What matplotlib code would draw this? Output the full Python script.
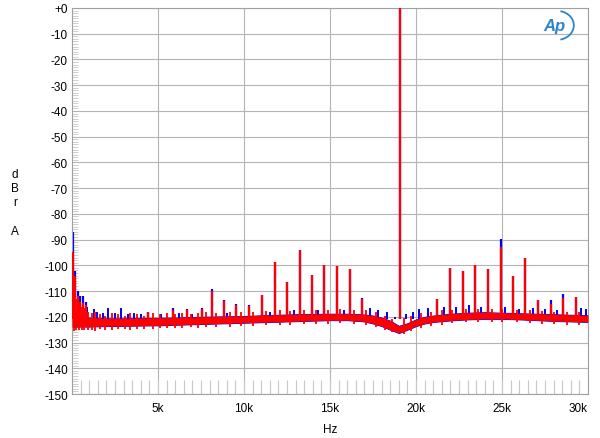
import matplotlib
matplotlib.use("Agg")
import matplotlib.pyplot as plt
from matplotlib.patches import Arc

plt.rcParams['font.family'] = ['Liberation Sans', 'DejaVu Sans']

# noise floor band (Hz, dBr)
floor_hz = [0, 200, 500, 1000, 2000, 3000, 4000, 5000, 6000, 7000, 8000, 9000,
            10000, 11000, 12000, 13000, 14000, 15000, 16000, 17000, 17500, 18000,
            18500, 19000, 19500, 20000, 20500, 21000, 22000, 23000, 24000, 25000,
            26000, 27000, 28000, 29000, 30000]
red_hi = [-116, -118, -119.5, -120.3, -120.6, -120.6, -120.5, -120.4, -120.3, -120.1, -119.9,
          -119.8, -119.7, -119.4, -119.2, -119, -118.9, -118.8, -118.8, -119.1, -119.5,
          -120.3, -121.5, -123.5, -122.5, -121, -120, -119.5, -118.8, -118.4, -118.2,
          -118.4, -118.6, -118.8, -119, -119.2, -119.4]
red_lo = [-124, -123.8, -123.8, -123.8, -123.6, -123.5, -123.4, -123.3, -123.1, -122.9,
          -122.7, -122.5, -122.3, -122.1, -121.9, -121.7, -121.5, -121.3, -121.3, -121.8,
          -122.6, -123.6, -125, -126.3, -125, -123.6, -122.6, -122, -121.4, -121, -120.8,
          -120.8, -121, -121.3, -121.6, -121.8, -122]

# discrete spurious tones: frequency, red peak, blue peak
spur_hz = [40, 190, 325, 480, 637, 811, 4440, 5886, 6663, 7532, 8111, 8824, 9560,
           10290, 11025, 11780, 12474, 13227, 13963, 14676, 15411, 16142, 16860,
           19070, 21240, 21975, 22729, 23442, 24177, 24948, 25643, 26361, 27091,
           27827, 28563, 29276]
spur_red = [-95, -104, -111.8, -114.4, -114.8, -115.5, -118.3, -117.2, -117.5, -117,
            -110, -113.8, -115.3, -115.7, -111.6, -98.6, -106.4, -93.9, -103.8, -99.8,
            -100.3, -101.3, -113.1, 0, -113.1, -100.9, -102.2, -99.8, -101.6, -93,
            -104.2, -97.3, -113.5, -115, -112.5, -112.4]
spur_blue = [-87.2, -102.1, -109.9, -111.8, -111.8, -114.4, -118, -116.7, -117, -116.6,
             -109.2, -113.5, -115, -115.4, -111.4, -98.6, -106.4, -93.9, -103.8, -99.8,
             -100.3, -101.3, -112.8, 0, -113, -100.9, -102.2, -99.8, -101.6, -89.8,
             -104.2, -97.3, -113.3, -113.5, -111.2, -112.4]

# small blue-only noise peaks
blip_hz = [900, 1250, 1450, 1800, 2120, 2500, 2840, 3250, 3600, 4000, 5200, 6200, 7000,
           9000, 11500, 12900, 14300, 15800, 17300, 17800, 18300, 18750, 19400, 19800,
           20200, 20700, 21600, 22300, 23100, 23800, 25200, 26000, 26800, 27500, 28200,
           29600, 29900]
blip_db = [-116, -117, -118, -118.5, -116.6, -118.5, -116.5, -119, -118.5, -119, -119,
           -118.5, -119, -118.5, -118, -117.5, -117.5, -117.5, -116.5, -117.5, -118,
           -120, -119, -118, -117, -116.5, -116, -116, -115.5, -116, -116, -117,
           -116.5, -117, -117.5, -116.5, -117]

# ragged red noise excursions (up and down), read by eye
jit_hz = [100, 260, 400, 560, 700, 950, 1150, 1350, 1600, 1900, 2300, 2700, 3100,
          3400, 3800, 4200, 4700, 5100, 5500, 6000, 6400, 6900, 7300, 7800, 8400,
          9200, 9800, 10500, 11300, 12100, 12700, 13500, 14200, 14900, 15600, 16400,
          17100, 17700, 18200, 18600, 19300, 19700, 20300, 20900, 21500, 22100, 22900,
          23600, 24400, 25000, 25900, 26600, 27300, 28000, 28800, 29500]
jit_top = [-112, -113, -115, -116, -116.5, -118, -118.5, -118, -119, -119.5, -118.5,
           -119, -119.5, -118.5, -119, -119.5, -118.5, -119, -118.5, -119, -118.5,
           -118.8, -118.5, -118.3, -118.5, -118, -118.3, -118, -117.8, -117.5, -117.8,
           -117.5, -117.2, -117.3, -117, -117.2, -117.5, -118.2, -119.5, -121, -120.5,
           -119.5, -118.5, -118, -117.5, -117.2, -116.8, -116.8, -116.8, -117, -117.2,
           -117.4, -117.8, -118, -118.2, -118.2]
jit_bot = [-125.5, -125, -125.2, -125, -125.3, -125, -125.2, -125.4, -124.8, -125,
           -125.1, -124.8, -124.9, -125, -124.6, -124.8, -124.6, -124.5, -124.2, -124.5,
           -124.2, -124, -124.3, -123.8, -124, -123.8, -123.5, -123.6, -123.2, -123.2,
           -123, -122.8, -122.7, -122.6, -122.4, -122.6, -123, -124, -125, -126,
           -126.5, -125.5, -124.5, -123.6, -123, -122.4, -122.2, -122, -122, -122,
           -122.2, -122.4, -122.6, -122.8, -123, -123.2]

yticks = list(range(0, -151, -10))
ytick_labels = ['+0'] + [str(v) for v in yticks[1:]]
xticks = [5000, 10000, 15000, 20000, 25000, 30000]
xtick_labels = ['5k', '10k', '15k', '20k', '25k', '30k']

fig = plt.figure(figsize=(6, 4.39), dpi=100)
ax = fig.add_axes([0.12, 0.1002, 0.86, 0.8793])

# bottom minor tick marks drawn as light lines
minor_x = [m * 500 for m in range(1, 60)]
ax.vlines(minor_x, -150, -144.5, color='#c8c8c8', lw=0.8, zorder=1)

# blue trace
ax.fill_between(floor_hz, red_lo, red_hi, color='#0000ff', lw=0.7, edgecolor='#0000ff', zorder=2)
ax.vlines(blip_hz, [-121] * len(blip_hz), blip_db, color='#0000ff', lw=1.4, zorder=2)
ax.vlines(spur_hz, [-121] * len(spur_hz), spur_blue, color='#0000ff', lw=1.6, zorder=2)

# red trace
ax.fill_between(floor_hz, red_lo, red_hi, color='#ff0000', lw=0, zorder=3)
ax.vlines(jit_hz, jit_bot, jit_top, color='#ff0000', lw=1.3, zorder=3)
ax.vlines(spur_hz, [-121] * len(spur_hz), spur_red, color='#ff0000', lw=1.6, zorder=3)

ax.set_xlim(0, 30000)
ax.set_ylim(-150, 0)
ax.set_yticks(yticks)
ax.set_yticklabels(ytick_labels)
ax.set_xticks(xticks)
ax.set_xticklabels(xtick_labels)
ax.get_xticklabels()[-1].set_horizontalalignment('right')
ax.set_yticks(range(-150, 1, 1), minor=True)
ax.tick_params(axis='both', which='major', length=0, labelsize=8.5)
ax.tick_params(axis='y', which='major', pad=3)
ax.tick_params(axis='x', which='major', pad=6)
ax.tick_params(axis='y', which='minor', direction='in', length=4, color='#c8c8c8', width=0.6)
ax.grid(True, which='major', color='#b4b4b4', lw=0.8)
ax.set_axisbelow(True)
for s in ax.spines.values():
    s.set_color('#a0a0a0')
    s.set_linewidth(0.8)

ax.set_xlabel('Hz', fontsize=8.5, labelpad=6)
fig.text(0.025, 0.537, 'd\nB\nr\n\nA', fontsize=8.5, ha='center', va='center', linespacing=1.25)

# Ap logo
ax.text(0.935, 0.955, 'Ap', transform=ax.transAxes, fontsize=12, fontstyle='italic',
        fontweight='bold', color='#2a86c8', ha='center', va='center')
ax.add_patch(Arc((0.94, 0.955), 0.065, 0.075, theta1=-80, theta2=80, transform=ax.transAxes,
                 color='#2a86c8', lw=1.3))

plt.savefig('out.png', dpi=100)
